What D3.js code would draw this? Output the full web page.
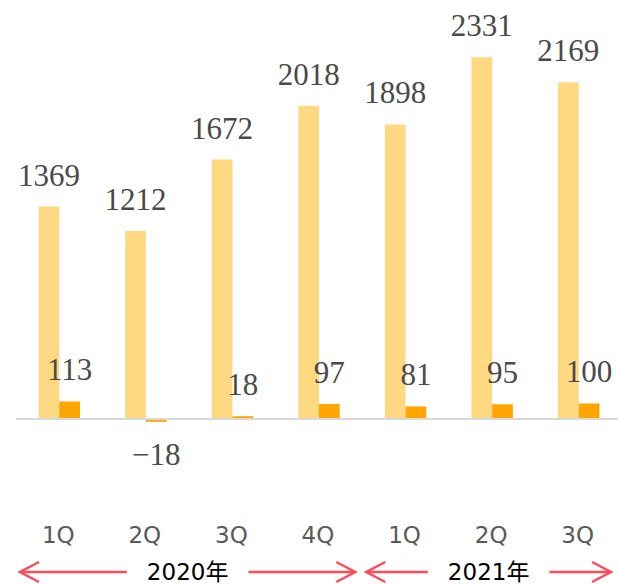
<!DOCTYPE html>
<html lang="ja">
<head>
<meta charset="UTF-8">
<script src="https://d3js.org/d3.v7.min.js"></script>
<style>
  body { margin: 0; background: #fff; }
  svg { display: block; }
</style>
</head>
<body>
<div id="vis"></div>
<script>
// data
const quarters = ["1Q", "2Q", "3Q", "4Q", "1Q", "2Q", "3Q"];
const sales = [1369, 1212, 1672, 2018, 1898, 2331, 2169];
const profit = [113, -18, 18, 97, 81, 95, 100];
const years = ["2020年", "2021年"];
const quartersPerYear = [4, 3];

const width = 618;
const height = 584;
const baseY = 419;

const svg = d3.select("#vis").append("svg")
  .attr("width", width)
  .attr("height", height);

// one band per quarter (indices, since quarter names repeat)
const x0 = d3.scaleBand()
  .domain(d3.range(quarters.length))
  .range([16, 622]);

const x1 = d3.scaleBand()
  .domain(["sales", "profit"])
  .range([0, x0.bandwidth()])
  .paddingOuter(1.09);

const y = d3.scaleLinear()
  .domain([0, 2400])
  .range([baseY, baseY - 2400 * 0.1552]);

const fmt = d3.format("d");

const rows = quarters.map((q, i) => ({ i, q, sales: sales[i], profit: profit[i] }));

const groups = svg.selectAll(".grp")
  .data(rows)
  .enter().append("g")
  .attr("class", "grp")
  .attr("transform", d => `translate(${x0(d.i)},0)`);

// sales bars
groups.append("rect")
  .attr("x", x1("sales"))
  .attr("width", x1.bandwidth())
  .attr("y", d => y(d.sales))
  .attr("height", d => y(0) - y(d.sales))
  .attr("fill", "#FFD982");

// profit bars
groups.append("rect")
  .attr("x", x1("profit"))
  .attr("width", x1.bandwidth())
  .attr("y", d => y(Math.max(0, d.profit)))
  .attr("height", d => Math.abs(y(0) - y(d.profit)))
  .attr("fill", "#FFA500");

// axis line
svg.append("line")
  .attr("x1", 16).attr("x2", 622)
  .attr("y1", y(0)).attr("y2", y(0))
  .attr("stroke", "#D9D9D9")
  .attr("stroke-width", 2);

const labelFont = "'Liberation Serif', 'DejaVu Serif', serif";

// value labels
groups.append("text")
  .attr("x", x1("sales") + x1.bandwidth() / 2)
  .attr("y", d => y(d.sales) - 21)
  .attr("text-anchor", "middle")
  .style("font-family", labelFont)
  .style("font-size", "31px")
  .attr("fill", "#4a4a4a")
  .text(d => fmt(d.sales));

groups.append("text")
  .attr("x", x1("profit") + x1.bandwidth() / 2)
  .attr("y", d => d.profit >= 0 ? y(d.profit) - 21 : y(d.profit) + 43)
  .attr("text-anchor", "middle")
  .style("font-family", labelFont)
  .style("font-size", "31px")
  .attr("fill", "#4a4a4a")
  .text(d => fmt(d.profit));

// quarter labels
groups.append("text")
  .attr("x", x0.bandwidth() / 2 - 1)
  .attr("y", 543)
  .attr("text-anchor", "middle")
  .style("font-family", "'DejaVu Sans', Verdana, sans-serif")
  .style("font-size", "23px")
  .attr("fill", "#595959")
  .text(d => d.q);

// year spans with arrows
const arrowY = 572;
const arrowColor = "#FF4B5A";
let start = 0;
years.forEach((yr, k) => {
  const first = start;
  const last = start + quartersPerYear[k] - 1;
  start += quartersPerYear[k];

  const left = x0(first) + 4;
  const right = Math.min(x0(last) + x0.bandwidth() - 7, width - 7);
  const mid = (left + right) / 2;

  const t = svg.append("text")
    .attr("x", mid)
    .attr("y", 580)
    .attr("text-anchor", "middle")
    .style("font-family", "'DejaVu Sans', 'Noto Sans CJK JP', sans-serif")
    .style("font-size", "23px")
    .attr("fill", "#000")
    .text(yr);

  const half = t.node().getComputedTextLength() / 2 + 20;

  const g = svg.append("g")
    .attr("stroke", arrowColor)
    .attr("stroke-width", 2.5)
    .attr("fill", "none");

  g.append("line").attr("x1", left).attr("x2", mid - half)
    .attr("y1", arrowY).attr("y2", arrowY);
  g.append("line").attr("x1", mid + half).attr("x2", right)
    .attr("y1", arrowY).attr("y2", arrowY);

  // open chevron heads
  g.append("path")
    .attr("d", `M${left + 19},${arrowY - 10}L${left},${arrowY}L${left + 19},${arrowY + 10}`);
  g.append("path")
    .attr("d", `M${right - 19},${arrowY - 10}L${right},${arrowY}L${right - 19},${arrowY + 10}`);
});
</script>
</body>
</html>
